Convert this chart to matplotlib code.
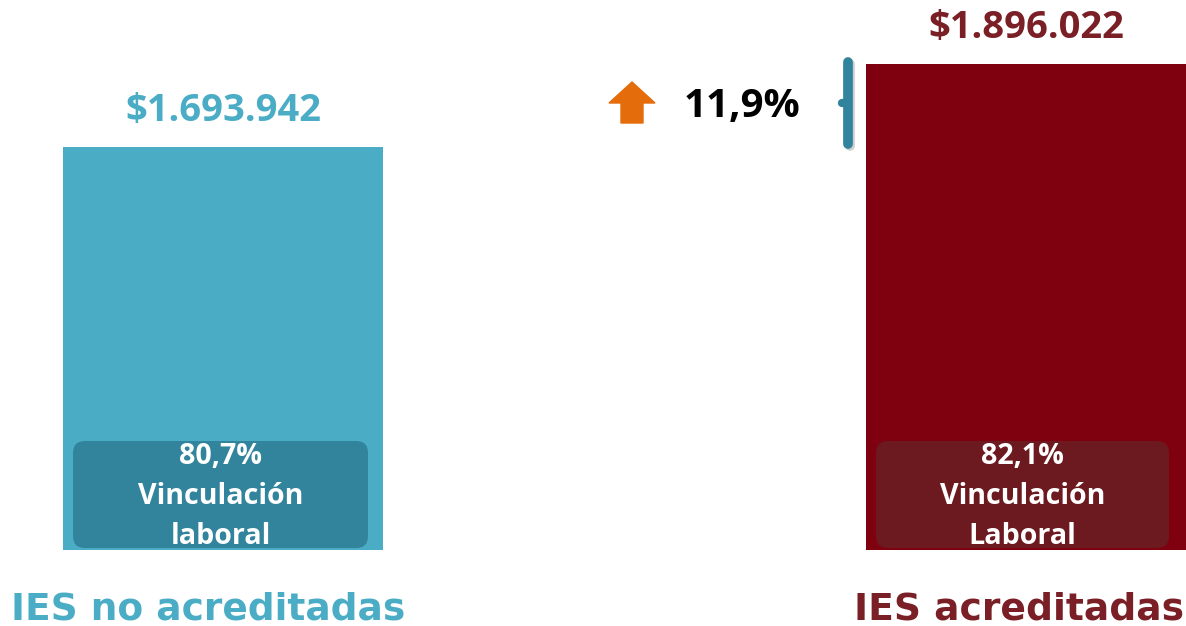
import matplotlib
matplotlib.use("Agg")
import matplotlib.pyplot as plt
from matplotlib.patches import FancyBboxPatch, FancyArrow
import numpy as np

categories = ["IES no acreditadas", "IES acreditadas"]
values = [1693942, 1896022]
value_labels = ["$1.693.942", "$1.896.022"]
vinc_labels = ["80,7%\nVinculación\nlaboral", "82,1%\nVinculación\nLaboral"]
change_label = "11,9%"

bar_colors = ["#4BACC6", "#7F000E"]
box_colors = ["#31849B", "#6C1A1F"]
text_colors = ["#4BACC6", "#7A1F25"]

FONT = ["Open Sans", "DejaVu Sans"]
plt.rcParams["font.family"] = FONT

W, H = 1186, 626
fig = plt.figure(figsize=(W / 100, H / 100), dpi=100)
ax = fig.add_axes([0, 0, 1, 1])
ax.axis("off")

base = 712758
upp = 2434.7  # value units per pixel
ax.set_ylim(base - 76 * upp, values[1] + 64 * upp)
ax.set_xlim(-223 / 803, 1 + 160 / 803)
x = np.arange(len(categories))
ax.bar(x, [v - base for v in values], bottom=base, width=320 / 803,
       color=bar_colors, zorder=1)

ov = fig.add_axes([0, 0, 1, 1], zorder=2)
ov.set_xlim(0, W)
ov.set_ylim(H, 0)
ov.axis("off")
ov.patch.set_alpha(0)

renderer = fig.canvas.get_renderer()


def fit(t, target_w):
    bb = t.get_window_extent(renderer=renderer)
    t.set_fontsize(t.get_fontsize() * target_w / bb.width)
    return t


# value labels above bars
for i, v in enumerate(values):
    t = ax.annotate(value_labels[i], (x[i], v), xytext=(0, 17), textcoords="offset pixels",
                    ha="center", va="bottom", fontsize=20, fontweight="bold",
                    color=text_colors[i])
    fit(t, 196)

# category labels (Verdana-like)
cat_pos = [(208.5, 619, 393), (1019, 619, 328)]
for i, c in enumerate(categories):
    cx, cy, cw = cat_pos[i]
    t = ov.text(cx, cy, c, ha="center", va="baseline", fontsize=22,
                fontweight="bold", color=text_colors[i], family="DejaVu Sans")
    fit(t, cw)

# inner rounded boxes
for i, (bx, bw) in enumerate([(73, 295), (876, 293)]):
    p = FancyBboxPatch((bx + 12, 441 + 12), bw - 24, 107 - 24,
                       boxstyle="round,pad=12", facecolor=box_colors[i],
                       edgecolor="none", zorder=2)
    ov.add_patch(p)
    cx = bx + bw / 2
    lines = vinc_labels[i].split("\n")
    for j, ln in enumerate(lines):
        t = ov.text(cx, 457 + j * 40, ln, ha="center", va="center", fontsize=19,
                    fontweight="bold", color="white", zorder=3, clip_on=False)
        if j == 1:
            fit(t, 165)
            fs = t.get_fontsize()
    for tt in ov.texts[-3:]:
        tt.set_fontsize(fs)

# orange arrow
ov.add_patch(FancyArrow(632, 123, 0, -41, width=22, head_width=46, head_length=21,
                        length_includes_head=True, color="#E46C0A", zorder=3))
t = ov.text(742, 107, change_label, ha="center", va="center", fontsize=25,
            fontweight="bold", color="black")
fit(t, 117)

# brace (with light shadow)
ov.plot([850, 850], [64, 146], color="#D0D0D0", lw=7, solid_capstyle="round", zorder=2)
ov.plot([848, 848], [62, 144], color="#31849B", lw=7, solid_capstyle="round", zorder=3)
ov.plot([842, 848], [103, 103], color="#31849B", lw=6, solid_capstyle="round", zorder=3)

fig.savefig("out.png", dpi=100)
